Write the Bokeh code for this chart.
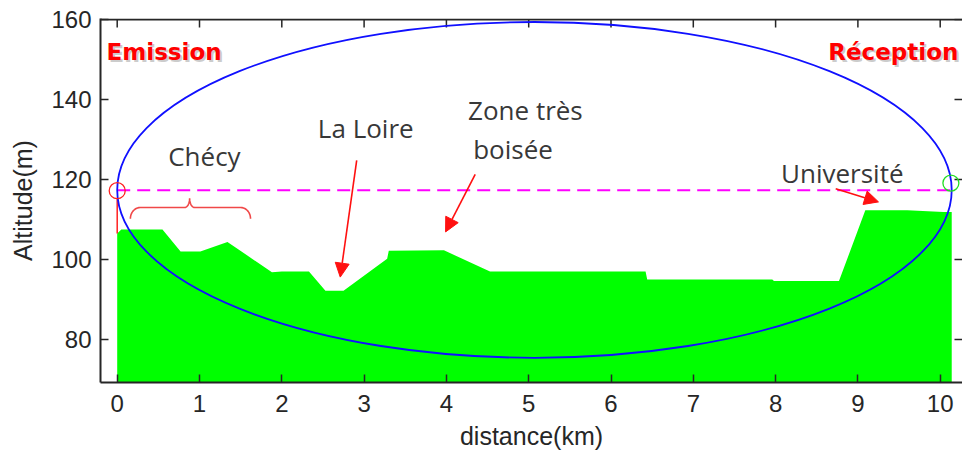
import numpy as np
from bokeh.plotting import figure
from bokeh.models import Range1d, FixedTicker, Arrow, NormalHead, Span
from bokeh.core.properties import value
from bokeh.embed import file_html
from bokeh.resources import INLINE

# ---- terrain profile (distance in km, altitude in m) ----
distance_km = [0.0, 0.05, 0.55, 0.77, 1.01, 1.34, 1.88, 2.00, 2.33, 2.53, 2.75,
               3.28, 3.30, 3.97, 4.53, 6.42, 6.44, 7.96, 7.98, 8.77, 9.09, 9.60,
               10.04, 10.14]
altitude_m = [106.5, 107.5, 107.5, 102.0, 102.0, 104.4, 96.8, 97.0, 97.0, 92.2, 92.2,
              100.2, 102.2, 102.3, 97.0, 97.0, 95.0, 95.0, 94.6, 94.6, 112.3, 112.3,
              111.9, 111.9]

x_ticks = [0, 1, 2, 3, 4, 5, 6, 7, 8, 9, 10]
y_ticks = [80, 100, 120, 140, 160]

# link geometry
emitter_km, emitter_alt = 0.0, 117.2
receiver_km, receiver_alt = 10.13, 119.1
link_alt = 117.3
fresnel_left_km, fresnel_right_km = 0.0, 10.14
fresnel_center_alt = 117.4
fresnel_half_height = 42.0

# annotations (text anchor positions)
note_text = ["Chécy", "La Loire", "Zone très", "boisée", "Université"]
note_x = [1.06, 3.02, 4.96, 4.81, 8.81]
note_y = [125.8, 132.8, 137.4, 127.6, 121.6]

site_text = ["Emission", "Réception"]
site_x = [0.57, 9.43]
site_y = [151.8, 151.8]

arrow_x0 = [2.91, 4.35, 8.73]
arrow_y0 = [124.8, 121.3, 117.7]
arrow_x1 = [2.71, 3.99, 9.25]
arrow_y1 = [95.6, 106.9, 114.4]

brace_left, brace_mid, brace_right = 0.16, 0.88, 1.62
brace_base, brace_bar, brace_tip = 110.2, 113.0, 115.3

AXIS_COL = "#262626"
TEXT_COL = "#383838"

X_START, X_END = -0.203, 10.271
Y_START, Y_END = 69.25, 160.25

p = figure(width=962, height=452, output_backend="svg", toolbar_location=None,
           x_range=Range1d(X_START, X_END), y_range=Range1d(Y_START, Y_END),
           x_axis_label="distance(km)", y_axis_label="Altitude(m)",
           min_border_left=100, min_border_top=18, min_border_right=0, min_border_bottom=70)
p.grid.visible = False
p.outline_line_color = None
p.background_fill_color = "white"
p.border_fill_color = "white"

for ax in (p.xaxis[0], p.yaxis[0]):
    ax.axis_line_color = AXIS_COL
    ax.axis_line_width = 2
    ax.major_tick_in = 8
    ax.major_tick_out = 0
    ax.major_tick_line_color = AXIS_COL
    ax.major_tick_line_width = 1.5
    ax.minor_tick_line_color = None
    ax.major_label_text_font = "Liberation Sans"
    ax.major_label_text_font_size = "24px"
    ax.major_label_text_color = AXIS_COL
    ax.axis_label_text_font = "Liberation Sans"
    ax.axis_label_text_font_size = "25px"
    ax.axis_label_text_font_style = "normal"
    ax.axis_label_text_color = AXIS_COL

p.xaxis[0].ticker = FixedTicker(ticks=x_ticks)
p.yaxis[0].ticker = FixedTicker(ticks=y_ticks)
p.xaxis[0].major_label_standoff = 12
p.xaxis[0].axis_label_standoff = 7
p.yaxis[0].major_label_standoff = 9
p.yaxis[0].axis_label_standoff = 11

# top border of the box and mirrored tick marks (top and right)
p.add_layout(Span(location=y_ticks[-1], dimension="width", line_color=AXIS_COL, line_width=2))
top_len = 8 / 4.0          # 8 px in altitude units
right_len = 8 / 82.3       # 8 px in km
p.segment(x0=x_ticks, y0=[y_ticks[-1]] * len(x_ticks), x1=x_ticks,
          y1=[y_ticks[-1] - top_len] * len(x_ticks), line_color=AXIS_COL, line_width=1.5)
p.segment(x0=[X_END] * len(y_ticks), y0=y_ticks, x1=[X_END - right_len] * len(y_ticks),
          y1=y_ticks, line_color=AXIS_COL, line_width=1.5)

# terrain
p.varea(x=distance_km, y1=[Y_START - 5] * len(distance_km), y2=altitude_m,
        fill_color="#00ff00")

# emitter mast
p.line(x=[emitter_km, emitter_km], y=[altitude_m[0], emitter_alt - 2.0],
       line_color="#ff2020", line_width=1.5)

# link line
p.line(x=[emitter_km, receiver_km], y=[link_alt, link_alt], line_color="#ff00ff",
       line_width=2, line_dash="13 7")

# Fresnel ellipse
p.ellipse(x=[(fresnel_left_km + fresnel_right_km) / 2], y=[fresnel_center_alt],
          width=[fresnel_right_km - fresnel_left_km], height=[2 * fresnel_half_height],
          fill_color=None, line_color="#1010ff", line_width=1.8)

# end-point circles
p.scatter(x=[emitter_km], y=[emitter_alt], marker="circle", size=16,
          fill_color=None, line_color="#ff2020", line_width=1.3)
p.scatter(x=[receiver_km], y=[receiver_alt], marker="circle", size=16,
          fill_color=None, line_color="#22dd22", line_width=1.3)

# curly brace under Chécy
t = np.linspace(0, np.pi / 2, 12)
dx1, dx2 = 0.12, 0.06
left_end_x = brace_left + dx1 * (1 - np.cos(t))
left_end_y = brace_base + (brace_bar - brace_base) * np.sin(t)
tip_up_x = brace_mid - dx2 + dx2 * np.sin(t)
tip_up_y = brace_bar + (brace_tip - brace_bar) * (1 - np.cos(t))
tip_down_x = brace_mid + dx2 - dx2 * np.cos(t)
tip_down_y = brace_tip - (brace_tip - brace_bar) * np.sin(t)
right_end_x = brace_right - dx1 * (1 - np.cos(t[::-1]))
right_end_y = brace_base + (brace_bar - brace_base) * np.sin(t[::-1])
bx = np.concatenate([left_end_x, tip_up_x, tip_down_x, right_end_x])
by = np.concatenate([left_end_y, tip_up_y, tip_down_y, right_end_y])
p.line(x=bx, y=by, line_color="#f04848", line_width=1.6)

# arrows
for xs, ys, xe, ye in zip(arrow_x0, arrow_y0, arrow_x1, arrow_y1):
    p.add_layout(Arrow(end=NormalHead(size=14, fill_color="#ff1010", line_color="#ff1010"),
                       x_start=xs, y_start=ys, x_end=xe, y_end=ye,
                       line_color="#ff1010", line_width=1.6))

# annotation texts
p.text(x=note_x, y=note_y, text=note_text, text_align="center", text_baseline="alphabetic",
       text_font=value("Open Sans"), text_font_size="26px", text_color=TEXT_COL)

# site labels with shadow
p.text(x=site_x, y=site_y, text=site_text, text_align="center", text_baseline="alphabetic",
       text_font=value("DejaVu Sans"), text_font_style="bold", text_font_size="23px",
       text_color="#999999", text_alpha=0.5, x_offset=2, y_offset=2)
p.text(x=site_x, y=site_y, text=site_text, text_align="center", text_baseline="alphabetic",
       text_font=value("DejaVu Sans"), text_font_style="bold", text_font_size="23px",
       text_color="#ff0000")

open("out.html", "w").write(file_html(p, INLINE))
